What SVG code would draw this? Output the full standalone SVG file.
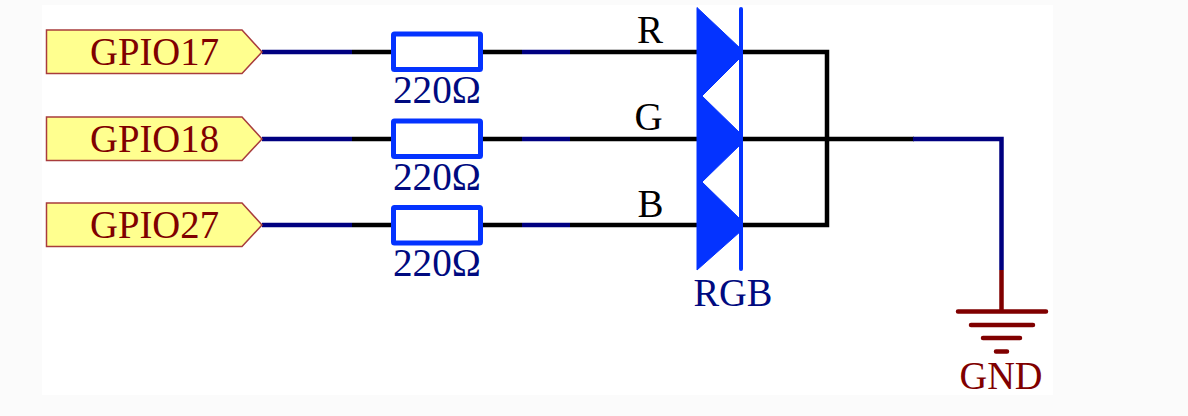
<svg xmlns="http://www.w3.org/2000/svg" width="1188" height="416" viewBox="0 0 1188 416">
<style>
text{font-family:"Liberation Serif","Times New Roman",serif;font-size:39px}
.red{fill:#800000}.navy{fill:#000a80}.blk{fill:#000}
.port{fill:#ffff8f;stroke:#a83c3c;stroke-width:1.5}
.res{fill:#fff;stroke:#0433ff;stroke-width:5;stroke-linejoin:round}
.w{fill:none;stroke-width:4.500;stroke-linejoin:miter}
.k{stroke:#000}.b{stroke:#000080}.g{stroke:#800000}
</style>
<rect width="1188" height="416" fill="#fbfbfb"/>
<rect x="42" y="5" width="1011" height="390" fill="#fff"/>
<g id="connectors">
<path class="w k" d="M352 52H392M481 52H522M570 52H697M352 139H392M481 139H522M570 139H697M352 225H392M481 225H522M570 225H697"/>
<path class="w b" d="M262 52H352M262 139H352M262 225H352"/>
<path class="w b" d="M522 52H570M522 139H570M522 225H570"/>
<path class="w k" d="M741 52H827V225H741M741 139H914"/>
<path class="w b" d="M913 139H1001.500V270"/>
<path class="w g" d="M1001.500 270V311"/>
</g>
<g id="gpio17"><path class="port" d="M46.500 30H242L262 52L242 73.500H46.500Z"/><text class="red" x="90" y="65" textLength="129" lengthAdjust="spacingAndGlyphs">GPIO17</text></g>
<g id="gpio18"><path class="port" d="M46.500 117H242L262 139L242 160.500H46.500Z"/><text class="red" x="90" y="152" textLength="129" lengthAdjust="spacingAndGlyphs">GPIO18</text></g>
<g id="gpio27"><path class="port" d="M46.500 203H242L262 225L242 246.500H46.500Z"/><text class="red" x="90" y="238" textLength="129" lengthAdjust="spacingAndGlyphs">GPIO27</text></g>
<g id="r1"><rect class="res" x="393.500" y="34" width="87" height="35.500" rx="1"/><text class="navy" x="393" y="103" textLength="88" lengthAdjust="spacingAndGlyphs">220Ω</text></g>
<g id="r2"><rect class="res" x="393.500" y="121" width="87" height="35.500" rx="1"/><text class="navy" x="393" y="190" textLength="88" lengthAdjust="spacingAndGlyphs">220Ω</text></g>
<g id="r3"><rect class="res" x="393.500" y="207.500" width="87" height="35.500" rx="1"/><text class="navy" x="393" y="276" textLength="88" lengthAdjust="spacingAndGlyphs">220Ω</text></g>
<g id="rgb-led">
<path fill="#0433ff" stroke="#0433ff" stroke-width="1" stroke-linejoin="round" d="M697 7.500L741 49V57L702 96L741 134V144L702 182L741 220V231L697 270Z"/>
<path fill="none" stroke="#0433ff" stroke-width="4" stroke-linecap="round" d="M741 9V269"/>
<text class="blk" x="637" y="43">R</text>
<text class="blk" x="634.500" y="130">G</text>
<text class="blk" x="637.500" y="217">B</text>
<text class="navy" x="693.500" y="306" textLength="79" lengthAdjust="spacingAndGlyphs">RGB</text>
</g>
<g id="gnd">
<path fill="none" stroke="#800000" stroke-width="4.500" stroke-linecap="round" d="M958 311.500H1046M971 325H1033M983 338H1020M996 351.500H1007"/>
<text class="red" x="959.500" y="389" textLength="83" lengthAdjust="spacingAndGlyphs">GND</text>
</g>
</svg>
